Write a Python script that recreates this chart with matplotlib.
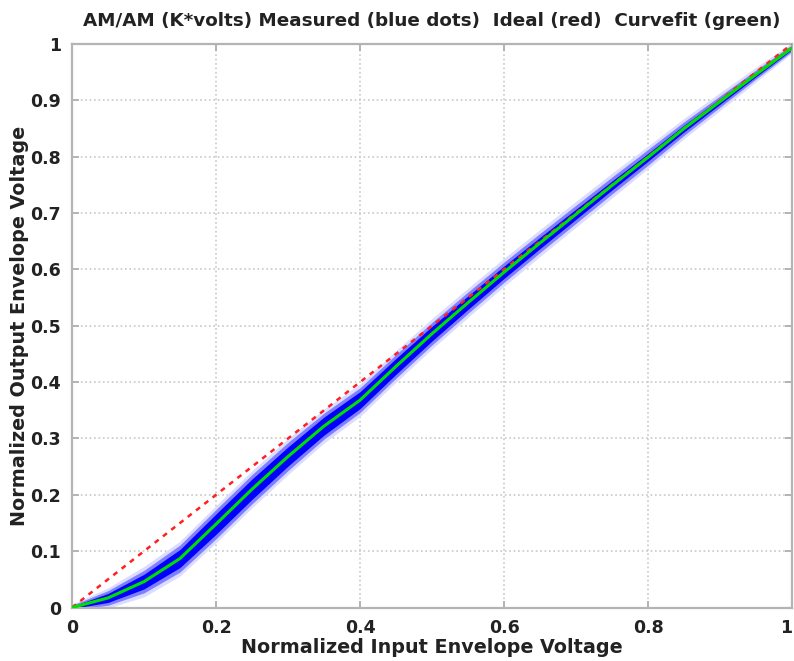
import numpy as np
import matplotlib
matplotlib.use("Agg")
import matplotlib.pyplot as plt

# curvefit (green)
x_fit = [0.0, 0.05, 0.10, 0.15, 0.20, 0.25, 0.30, 0.35, 0.40, 0.45, 0.50,
         0.55, 0.60, 0.65, 0.70, 0.75, 0.80, 0.85, 0.90, 0.95, 1.00]
y_fit = [0.0, 0.017, 0.046, 0.087, 0.148, 0.210, 0.268, 0.322, 0.368, 0.428, 0.486,
         0.541, 0.595, 0.647, 0.698, 0.749, 0.799, 0.850, 0.898, 0.946, 0.993]

# spread of the measured (blue) cloud around the fit, half-widths in y
core_w = [0.002, 0.008, 0.013, 0.016, 0.018, 0.018, 0.017, 0.016, 0.015, 0.014, 0.013,
          0.012, 0.011, 0.010, 0.009, 0.008, 0.007, 0.006, 0.005, 0.004, 0.003]
mid_w = [0.004, 0.013, 0.020, 0.024, 0.026, 0.026, 0.025, 0.023, 0.022, 0.021, 0.020,
         0.019, 0.018, 0.017, 0.016, 0.015, 0.014, 0.012, 0.010, 0.008, 0.006]
halo_w = [0.006, 0.018, 0.027, 0.031, 0.033, 0.033, 0.032, 0.030, 0.029, 0.028, 0.027,
          0.026, 0.025, 0.024, 0.023, 0.022, 0.020, 0.018, 0.016, 0.013, 0.009]

# ideal line
x_ideal = [0.0, 1.0]
y_ideal = [0.0, 1.0]

plt.rcParams['font.family'] = ['DejaVu Sans']
plt.rcParams['font.weight'] = 'bold'

fig = plt.figure(figsize=(7.94, 6.61), dpi=100)
ax = fig.add_axes([0.0907, 0.0809, 0.9068, 0.8525])

x = np.array(x_fit)
y = np.array(y_fit)
ax.fill_between(x, y - np.array(halo_w), y + np.array(halo_w), color='#dcdcff', lw=0, zorder=2)
ax.fill_between(x, y - np.array(mid_w), y + np.array(mid_w), color='#8080ff', lw=0, zorder=2)
ax.fill_between(x, y - np.array(core_w), y + np.array(core_w), color='#0000ff', lw=0, zorder=2)

ax.plot(x_ideal, y_ideal, color='#ff2020', lw=1.8, linestyle=(0, (2, 2.2)), zorder=3)
ax.plot(x_fit, y_fit, color='#00e000', lw=2.2, zorder=4)

ax.set_xlim(0, 1)
ax.set_ylim(0, 1)
ax.set_xticks([0, 0.2, 0.4, 0.6, 0.8, 1])
ax.set_xticklabels(['0', '0.2', '0.4', '0.6', '0.8', '1'])
ax.set_yticks(np.arange(0, 1.01, 0.1))
ax.set_yticklabels(['0', '0.1', '0.2', '0.3', '0.4', '0.5', '0.6', '0.7', '0.8', '0.9', '1'])
ax.get_xticklabels()[-1].set_horizontalalignment('right')

ax.grid(True, linestyle=':', color='#c8c8c8', lw=1.2)
ax.set_axisbelow(True)
for s in ax.spines.values():
    s.set_color('#b4b4b4')
    s.set_linewidth(1.6)
ax.tick_params(direction='in', length=5, color='#b4b4b4', width=1.4,
               labelsize=12.5, labelcolor='#222222', pad=8, top=True, right=True)

ax.set_title('AM/AM (K*volts) Measured (blue dots)  Ideal (red)  Curvefit (green)',
             fontsize=13.2, fontweight='bold', color='#222222', pad=13)
ax.set_xlabel('Normalized Input Envelope Voltage', fontsize=13.8, fontweight='bold',
              color='#222222', labelpad=1)
ax.set_ylabel('Normalized Output Envelope Voltage', fontsize=13.8, fontweight='bold',
              color='#222222', labelpad=1)

fig.savefig('out.png', dpi=100)
